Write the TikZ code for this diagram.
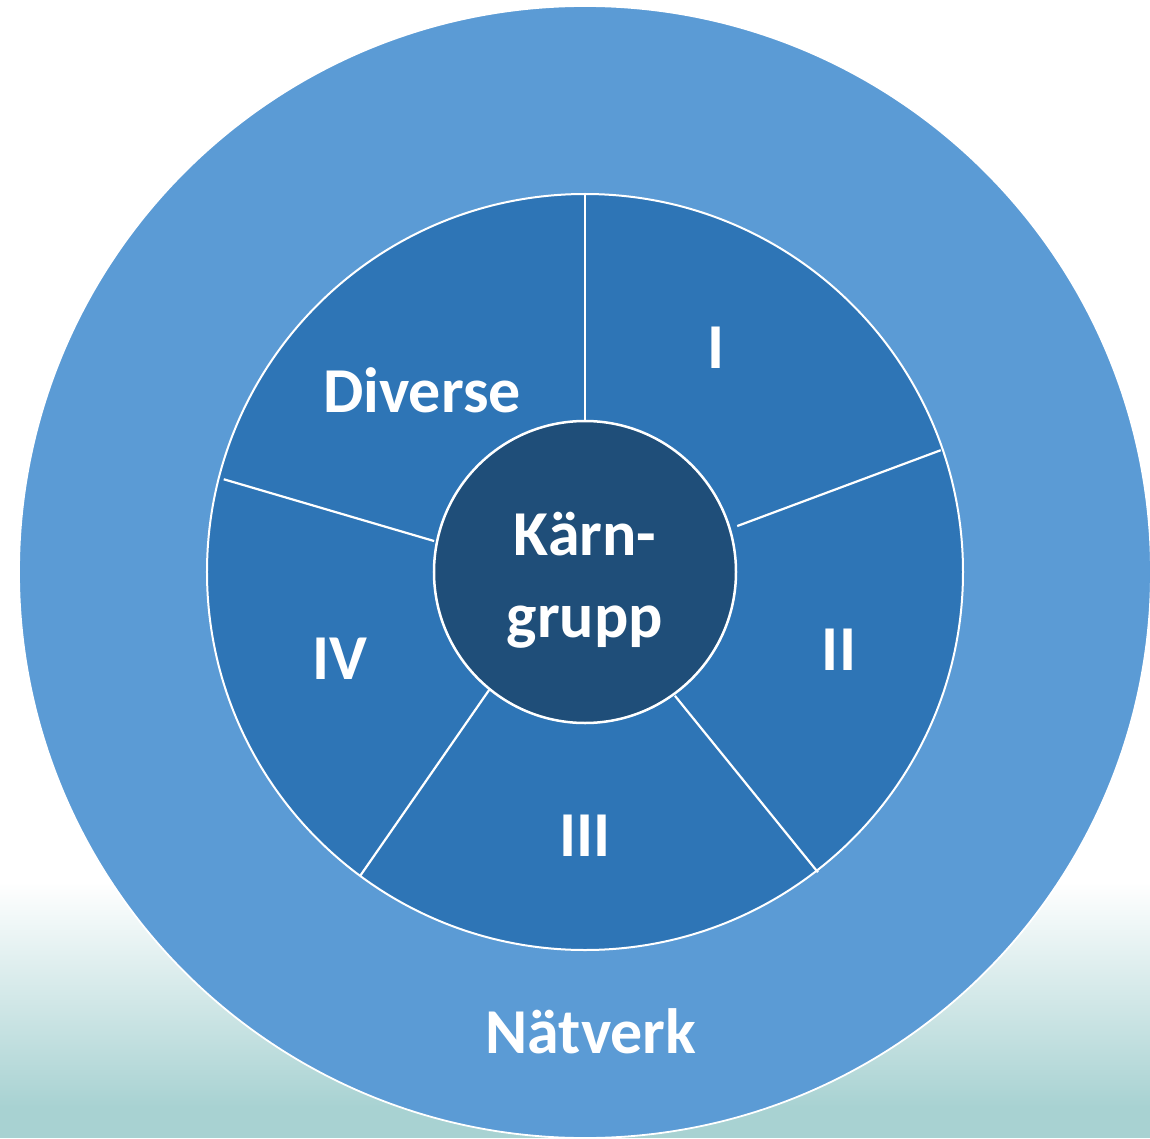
\documentclass[tikz,border=0pt]{standalone}
\usepackage{fontspec}
\setmainfont{Carlito}
\definecolor{netzblue}{HTML}{5B9BD5}
\definecolor{ringblue}{HTML}{2E75B6}
\definecolor{kernblue}{HTML}{1F4E79}
\definecolor{seafoam}{HTML}{A8D2D2}

\begin{document}
\begin{tikzpicture}[x=1pt,y=1pt,font=\fontsize{64}{82}\selectfont\bfseries,
    lbl/.style={text=white,inner sep=0pt,anchor=base}]
    \useasboundingbox (-585,-566) rectangle (565,572);
    \fill[white] (-585,-566) rectangle (565,572);
    \shade[top color=white,middle color=seafoam!62!white,bottom color=seafoam] (-585,-310) rectangle (565,-535);
    \fill[seafoam] (-585,-534) rectangle (565,-566);
    \draw[white,line width=1.8pt,fill=netzblue] (0,0) circle (566pt);
    \draw[white,line width=2pt,fill=ringblue] (0,0) circle (378pt);
    \foreach \a/\ra/\b/\rb in {90/151/90/378,16.8/159/18.9/376,-54/153/-52.2/380,-129.1/152/-126.5/378,168.4/154/165.6/373}
    \draw[white,line width=2.2pt] (\a:\ra) -- (\b:\rb);
    \draw[white,line width=2.5pt,fill=kernblue] (0,0) circle (151pt);
    \node[lbl] (kern) at (0,17) {Kärn-};
    \node[lbl] (gruppe) at (0,-65) {grupp};
    \node[lbl] (diverse) at (-163,160) {Diverse};
    \node[lbl] (eins) at (131,204) {I};
    \node[lbl] (zwei) at (254,-98) {II};
    \node[lbl] (drei) at (0,-284) {III};
    \node[lbl] (vier) at (-245,-107) {IV};
    \node[lbl] (netz) at (6,-481) {Nätverk};
\end{tikzpicture}
\end{document}
